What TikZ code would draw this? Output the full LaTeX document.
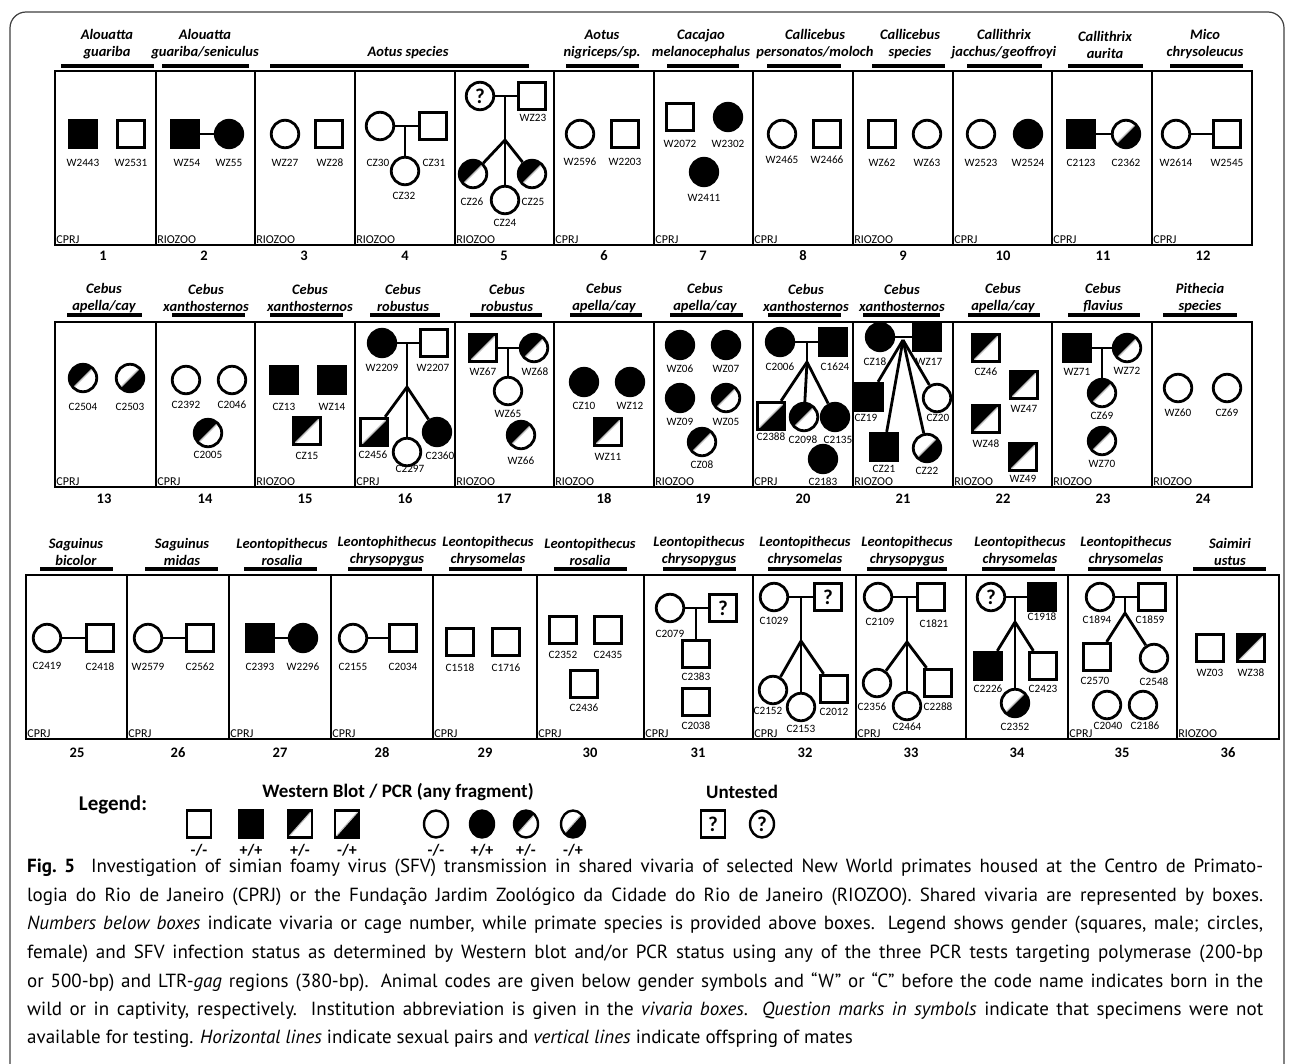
\documentclass[tikz,border=0pt]{standalone}
\usepackage{fontspec}
\setmainfont{Carlito}
\newfontfamily\capfont{PT Sans}
\usetikzlibrary{shapes.geometric}
\tikzset{
  ind/.style={draw, line width=2.8pt, minimum size=27.5pt, inner sep=0pt, fill=white},
  M/.style={ind, rectangle},
  F/.style={ind, circle},
  P/.style={fill=black},
  PN/.style={path picture={\fill[black] (path picture bounding box.south west) -- (path picture bounding box.north west) -- (path picture bounding box.north east) -- cycle; \draw[black!25, line width=1.1pt] (path picture bounding box.south west) -- (path picture bounding box.north east);}},
  NP/.style={path picture={\fill[black] (path picture bounding box.south west) -- (path picture bounding box.south east) -- (path picture bounding box.north east) -- cycle; \draw[black!25, line width=1.1pt] (path picture bounding box.south west) -- (path picture bounding box.north east);}},
  Q/.style={font=\bfseries\fontsize{21}{21}\selectfont},
  lab/.style={font=\fontsize{11.2}{11.2}\selectfont, inner sep=0pt},
  inst/.style={font=\fontsize{12}{12}\selectfont, anchor=south west, inner sep=1.2pt},
  num/.style={font=\bfseries\fontsize{14.5}{14.5}\selectfont, inner sep=0pt},
  spec/.style={font=\bfseries\itshape\fontsize{14.5}{17}\selectfont, align=center, inner sep=0pt},
  sbar/.style={line width=3.5pt},
  vbox/.style={line width=1.5pt},
  conn/.style={line width=2.8pt},
  legsym/.style={minimum width=24pt, minimum height=27pt, line width=2.4pt},
  leglab/.style={font=\bfseries\fontsize{16}{16}\selectfont, inner sep=0pt},
  legtitle/.style={font=\bfseries\fontsize{19}{19}\selectfont, inner sep=0pt},
  capline/.style={anchor=west, inner sep=0pt, font=\capfont\fontsize{19}{19}\selectfont},
}
\newcommand\ani[5]{\node[#1] (#2) at (#3) {}; \node[lab] (#2l) at (#4) {#5};}
\newcommand\instl[3]{\node[inst] (#1) at (#2) {#3};}
\newcommand\spc[7]{\node[spec] (#1) at (#2,#3) {#4}; \draw[sbar] (#5,#7) -- (#6,#7);}
\begin{document}
\begin{tikzpicture}[x=1pt,y=-1pt]
\useasboundingbox (0,0) rectangle (1292,1063);
\fill[white] (0,0) rectangle (1292,1063);
% outer frame
\draw[line width=1.2pt, black!75, rounded corners=16pt] (10,1100) -- (10,12) -- (1284,12) -- (1284,1100);

% ===================== ROW 1 =====================
\draw[vbox] (55,71) rectangle (1252,245);
\foreach \x in {156,255,355,455,554,654,753,853,953,1052,1152} \draw[vbox] (\x,71) -- (\x,245);
\spc{s1}{107}{44.5}{Alouatta\\guariba}{61}{154}{66}
\spc{s2}{205}{44.5}{Alouatta\\guariba/seniculus}{162}{249}{66}
\node[spec] (s3) at (408,53) {Aotus species}; \draw[sbar] (270,66) -- (529,66);
\spc{s6}{602}{44.5}{Aotus\\nigriceps/sp.}{566}{639}{66}
\spc{s7}{701}{44.5}{Cacajao\\melanocephalus}{667}{739}{66}
\spc{s8}{815}{44.5}{Callicebus\\personatos/moloch}{767}{841}{66}
\spc{s9}{910}{44.5}{Callicebus\\species}{872}{945}{66}
\spc{s10}{1004}{44.5}{Callithrix\\jacchus/geoffroyi}{967}{1042}{66}
\spc{s11}{1105}{44.5}{Callithrix\\aurita}{1068}{1143}{66}
\spc{s12}{1205}{44.5}{Mico\\chrysoleucus}{1170}{1243}{66}
\foreach \n/\x in {1/103,2/204,3/304,4/405,5/504,6/604,7/703,8/803,9/903,10/1003,11/1103,12/1203}
  \node[num] (k\n) at (\x,256) {\n};
\instl{i1}{55,245}{CPRJ} \instl{i2}{156,245}{RIOZOO} \instl{i3}{255,245}{RIOZOO}
\instl{i4}{355,245}{RIOZOO} \instl{i5}{455,245}{RIOZOO} \instl{i6}{554,245}{CPRJ}
\instl{i7}{654,245}{CPRJ} \instl{i8}{753,245}{CPRJ} \instl{i9}{853,245}{RIOZOO}
\instl{i10}{953,245}{CPRJ} \instl{i11}{1052,245}{CPRJ} \instl{i12}{1152,245}{CPRJ}
% box 1
\ani{M,P}{a1}{83,134}{83,163}{W2443}
\ani{M}{a2}{131,134}{131,163}{W2531}
% box 2
\ani{M,P}{a3}{185,134}{187,163}{WZ54}
\ani{F,P}{a4}{229,134}{229,163}{WZ55}
\draw[conn] (a3) -- (a4);
% box 3
\ani{F}{a5}{285,134}{285,163}{WZ27}
\ani{M}{a6}{329,134}{330,163}{WZ28}
% box 4
\ani{F}{a7}{380,126}{378,163}{CZ30}
\ani{M}{a8}{433,126}{434,163}{CZ31}
\draw[conn] (a7) -- (a8);
\coordinate (m4) at (405,126);
\ani{F}{a9}{405,171}{404,196}{CZ32}
\draw[conn] (m4) -- (a9);
% box 5
\node[F,Q] (q5) at (480,96) {?};
\ani{M}{a10}{532,96}{533,118}{WZ23}
\draw[conn] (q5) -- (a10);
\coordinate (m5) at (505,96); \coordinate (b5) at (505,140);
\ani{F,PN}{a11}{473,174}{472,202}{CZ26}
\ani{F}{a12}{505,200}{505,223}{CZ24}
\ani{F,PN}{a13}{532,174}{533,202}{CZ25}
\draw[conn] (m5) -- (b5); \draw[conn] (b5) -- (a11); \draw[conn] (b5) -- (a12); \draw[conn] (b5) -- (a13);
% box 6
\ani{F}{a14}{580,134}{580,162}{W2596}
\ani{M}{a15}{625,134}{625,162}{W2203}
% box 7
\ani{M}{a16}{680,117}{680,144}{W2072}
\ani{F,P}{a17}{728,117}{728,144}{W2302}
\ani{F,P}{a18}{704,172}{704,198}{W2411}
% box 8
\ani{F}{a19}{782,134}{782,160}{W2465}
\ani{M}{a20}{827,134}{827,160}{W2466}
% box 9
\ani{M}{a21}{882,134}{882,163}{WZ62}
\ani{F}{a22}{927,134}{927,163}{WZ63}
% box 10
\ani{F}{a23}{981,134}{981,163}{W2523}
\ani{F,P}{a24}{1028,134}{1028,163}{W2524}
% box 11
\ani{M,P}{a25}{1081,134}{1081,163}{C2123}
\ani{F,NP}{a26}{1126,134}{1126,163}{C2362}
\draw[conn] (a25) -- (a26);
% box 12
\ani{F}{a27}{1176,134}{1176,163}{W2614}
\ani{M}{a28}{1227,134}{1227,163}{W2545}
\draw[conn] (a27) -- (a28);

% ===================== ROW 2 =====================
\draw[vbox] (55,322) rectangle (1252,487);
\foreach \x in {156,255,355,455,554,654,753,853,953,1052,1152} \draw[vbox] (\x,322) -- (\x,487);
\spc{s13}{104}{298}{Cebus\\apella/cay}{67}{142}{315}
\spc{s14}{206}{298}{Cebus\\xanthosternos}{172}{245}{315}
\spc{s15}{310}{298}{Cebus\\xanthosternos}{270}{343}{315}
\spc{s16}{403}{298}{Cebus\\robustus}{370}{440}{315}
\spc{s17}{507}{298}{Cebus\\robustus}{470}{542}{315}
\spc{s18}{604}{298}{Cebus\\apella/cay}{570}{642}{315}
\spc{s19}{705}{298}{Cebus\\apella/cay}{670}{743}{315}
\spc{s20}{806}{298}{Cebus\\xanthosternos}{768}{841}{315}
\spc{s21}{902}{298}{Cebus\\xanthosternos}{863}{940}{315}
\spc{s22}{1003}{298}{Cebus\\apella/cay}{968}{1040}{315}
\spc{s23}{1103}{298}{Cebus\\flavius}{1068}{1140}{315}
\spc{s24}{1200}{298}{Pithecia\\species}{1163}{1237}{315}
\foreach \n/\x in {13/104,14/205,15/305,16/405,17/504,18/604,19/703,20/803,21/903,22/1003,23/1103,24/1203}
  \node[num] (k\n) at (\x,499) {\n};
\instl{i13}{55,487}{CPRJ} \instl{i14}{156,487}{CPRJ} \instl{i15}{255,487}{RIOZOO}
\instl{i16}{355,487}{CPRJ} \instl{i17}{455,487}{RIOZOO} \instl{i18}{554,487}{RIOZOO}
\instl{i19}{654,487}{RIOZOO} \instl{i20}{753,487}{CPRJ} \instl{i21}{853,487}{RIOZOO}
\instl{i22}{953,487}{RIOZOO} \instl{i23}{1052,487}{RIOZOO} \instl{i24}{1152,487}{RIOZOO}
% box 13
\ani{F,PN}{b1}{83,378}{83,407}{C2504}
\ani{F,NP}{b2}{130,378}{130,407}{C2503}
% box 14
\ani{F}{b3}{186,380}{186,405}{C2392}
\ani{F}{b4}{232,380}{232,405}{C2046}
\ani{F,PN}{b5}{208,433}{208,455}{C2005}
% box 15
\ani{M,P}{b6}{284,380}{284,407}{CZ13}
\ani{M,P}{b7}{332,380}{332,407}{WZ14}
\ani{M,PN}{b8}{307,431}{307,456}{CZ15}
% box 16
\ani{F,P}{b9}{382,343}{382,368}{W2209}
\ani{M}{b10}{434,343}{433,368}{W2207}
\draw[conn] (b9) -- (b10);
\coordinate (m16) at (407,343); \coordinate (br16) at (407,387);
\ani{M,NP}{b11}{374,432}{373,455}{C2456}
\ani{F}{b12}{407,452}{410,469}{C2297}
\ani{F,P}{b13}{437,432}{440,456}{C2360}
\draw[conn] (m16) -- (br16); \draw[conn] (br16) -- (b11); \draw[conn] (br16) -- (b12); \draw[conn] (br16) -- (b13);
% box 17
\ani{M,PN}{b14}{483,348}{483,372}{WZ67}
\ani{F,PN}{b15}{534,348}{535,372}{WZ68}
\draw[conn] (b14) -- (b15);
\coordinate (m17) at (508,348);
\ani{F}{b16}{508,391}{508,414}{WZ65}
\draw[conn] (m17) -- (b16);
\ani{F,PN}{b17}{521,435}{521,461}{WZ66}
% box 18
\ani{F,P}{b18}{584,382}{584,406}{CZ10}
\ani{F,P}{b19}{630,382}{630,406}{WZ12}
\ani{M,PN}{b20}{608,432}{608,457}{WZ11}
% box 19
\ani{F,P}{b21}{680,345}{680,369}{WZ06}
\ani{F,P}{b22}{726,345}{726,369}{WZ07}
\ani{F,P}{b23}{680,398}{680,422}{WZ09}
\ani{F,PN}{b24}{726,398}{726,422}{WZ05}
\ani{F,PN}{b25}{702,442}{702,465}{CZ08}
% box 20
\ani{F,P}{b26}{780,342}{780,367}{C2006}
\ani{M,P}{b27}{833,342}{835,367}{C1624}
\draw[conn] (b26) -- (b27);
\coordinate (m20) at (807,342); \coordinate (br20) at (807,362);
\ani{M,NP}{b28}{771,416}{771,437}{C2388}
\ani{F,PN}{b29}{804,417}{803,440}{C2098}
\ani{F,P}{b30}{835,417}{838,440}{C2135}
\ani{F,P}{b31}{823,459}{823,482}{C2183}
\draw[conn] (m20) -- (br20); \draw[conn] (br20) -- (b28); \draw[conn] (br20) -- (b29); \draw[conn] (br20) -- (b30);
% box 21
\ani{F,P}{b32}{880,337}{875,362}{CZ18}
\ani{M,P}{b33}{927,337}{929,362}{WZ17}
\draw[conn] (b32) -- (b33);
\coordinate (m21) at (903,340);
\ani{M,P}{b34}{869,397}{866,418}{CZ19}
\ani{F}{b35}{937,398}{938,418}{CZ20}
\ani{M,P}{b36}{884,447}{884,469}{CZ21}
\ani{F,NP}{b37}{927,448}{927,471}{CZ22}
\draw[conn] (m21) -- (b34); \draw[conn] (m21) -- (b35); \draw[conn] (m21) -- (b36); \draw[conn] (m21) -- (b37);
% box 22
\ani{M,PN}{b38}{986,348}{986,372}{CZ46}
\ani{M,PN}{b39}{1024,385}{1024,409}{WZ47}
\ani{M,PN}{b40}{986,419}{986,444}{WZ48}
\ani{M,PN}{b41}{1023,457}{1023,479}{WZ49}
% box 23
\ani{M,P}{b42}{1077,348}{1077,372}{WZ71}
\ani{F,PN}{b43}{1127,348}{1127,371}{WZ72}
\draw[conn] (b42) -- (b43);
\coordinate (m23) at (1102,348);
\ani{F,PN}{b44}{1102,393}{1102,416}{CZ69}
\ani{F,PN}{b45}{1102,441}{1102,464}{WZ70}
\draw[conn] (m23) -- (b44);
% box 24
\ani{F}{b46}{1178,388}{1178,413}{WZ60}
\ani{F}{b47}{1227,388}{1227,413}{CZ69}

% ===================== ROW 3 =====================
\draw[vbox] (26,575) rectangle (1279,739);
\foreach \x in {127,229,331,433,537,644,753,856,966,1068,1177} \draw[vbox] (\x,575) -- (\x,739);
\spc{s25}{76}{551.5}{Saguinus\\bicolor}{40}{113}{569}
\spc{s26}{182}{551.5}{Saguinus\\midas}{145}{218}{569}
\spc{s27}{282}{551.5}{Leontopithecus\\rosalia}{244}{317}{569}
\spc{s28}{387}{551.5}{Leontophithecus\\chrysopygus}{348}{422}{569}
\spc{s29}{488}{551.5}{Leontopithecus\\chrysomelas}{449}{522}{569}
\spc{s30}{590}{551.5}{Leontopithecus\\rosalia}{554}{627}{569}
\spc{s31}{699}{551.5}{Leontopithecus\\chrysopygus}{663}{736}{569}
\spc{s32}{805}{551.5}{Leontopithecus\\chrysomelas}{768}{841}{569}
\spc{s33}{907}{551.5}{Leontopithecus\\chrysopygus}{867}{947}{569}
\spc{s34}{1020}{551.5}{Leontopithecus\\chrysomelas}{982}{1055}{569}
\spc{s35}{1126}{551.5}{Leontopithecus\\chrysomelas}{1088}{1161}{569}
\spc{s36}{1230}{551.5}{Saimiri\\ustus}{1193}{1266}{569}
\foreach \n/\x in {25/77,26/178,27/280,28/382,29/485,30/590,31/698,32/805,33/911,34/1017,35/1122,36/1228}
  \node[num] (k\n) at (\x,753) {\n};
\foreach \n/\x in {25/26,26/127,27/229,28/331,29/433,30/537,31/644,32/753,33/856,35/1068}
  \node[inst] (i\n) at (\x,739) {CPRJ};
\node[inst] (i36) at (1177,739) {RIOZOO};
% box 25
\ani{F}{c1}{47,638}{47,666}{C2419}
\ani{M}{c2}{100,638}{100,667}{C2418}
\draw[conn] (c1) -- (c2);
% box 26
\ani{F}{c3}{148,638}{148,667}{W2579}
\ani{M}{c4}{200,638}{200,667}{C2562}
\draw[conn] (c3) -- (c4);
% box 27
\ani{M,P}{c5}{260,638}{260,667}{C2393}
\ani{F,P}{c6}{303,638}{303,667}{W2296}
\draw[conn] (c5) -- (c6);
% box 28
\ani{F}{c7}{353,638}{353,667}{C2155}
\ani{M}{c8}{403,638}{403,667}{C2034}
\draw[conn] (c7) -- (c8);
% box 29
\ani{M}{c9}{460,642}{460,668}{C1518}
\ani{M}{c10}{506,642}{506,668}{C1716}
% box 30
\ani{M}{c11}{563,630}{563,655}{C2352}
\ani{M}{c12}{608,630}{608,655}{C2435}
\ani{M}{c13}{584,684}{584,708}{C2436}
% box 31
\ani{F}{c14}{670,608}{670,634}{C2079}
\node[M,Q] (q31) at (723,608) {?};
\draw[conn] (c14) -- (q31);
\coordinate (m31) at (696,608);
\ani{M}{c15}{696,654}{696,677}{C2383}
\draw[conn] (m31) -- (c15);
\ani{M}{c16}{696,702}{696,726}{C2038}
% box 32
\ani{F}{c17}{774,597}{774,621}{C1029}
\node[M,Q] (q32) at (828,597) {?};
\draw[conn] (c17) -- (q32);
\coordinate (m32) at (801,597); \coordinate (br32) at (801,641);
\ani{F}{c18}{773,690}{768,711}{C2152}
\ani{F}{c19}{801,707}{801,729}{C2153}
\ani{M}{c20}{834,689}{834,712}{C2012}
\draw[conn] (m32) -- (br32); \draw[conn] (br32) -- (c18); \draw[conn] (br32) -- (c19); \draw[conn] (br32) -- (c20);
% box 33
\ani{F}{c21}{878,597}{880,622}{C2109}
\ani{M}{c22}{931,597}{934,624}{C1821}
\draw[conn] (c21) -- (c22);
\coordinate (m33) at (907,597); \coordinate (br33) at (907,642);
\ani{F}{c23}{877,683}{872,707}{C2356}
\ani{F}{c24}{907,706}{907,727}{C2464}
\ani{M}{c25}{938,683}{938,707}{C2288}
\draw[conn] (m33) -- (br33); \draw[conn] (br33) -- (c23); \draw[conn] (br33) -- (c24); \draw[conn] (br33) -- (c25);
% box 34
\node[F,Q] (q34) at (991,597) {?};
\ani{M,P}{c26}{1042,597}{1042,617}{C1918}
\draw[conn] (q34) -- (c26);
\coordinate (m34) at (1015,597); \coordinate (br34) at (1015,622);
\ani{M,P}{c27}{988,666}{988,689}{C2226}
\ani{M}{c28}{1043,666}{1043,689}{C2423}
\ani{F,NP}{c29}{1015,703}{1015,727}{C2352}
\draw[conn] (m34) -- (br34); \draw[conn] (br34) -- (c27); \draw[conn] (br34) -- (c28); \draw[conn] (br34) -- (c29);
% box 35
\ani{F}{c30}{1100,597}{1097,620}{C1894}
\ani{M}{c31}{1152,597}{1150,620}{C1859}
\draw[conn] (c30) -- (c31);
\coordinate (m35) at (1125,597); \coordinate (br35) at (1125,613);
\ani{M}{c32}{1097,657}{1095,681}{C2570}
\ani{F}{c33}{1154,658}{1154,682}{C2548}
\draw[conn] (m35) -- (br35); \draw[conn] (br35) -- (c32); \draw[conn] (br35) -- (c33);
\ani{F}{c34}{1107,705}{1108,726}{C2040}
\ani{F}{c35}{1143,705}{1145,726}{C2186}
% box 36
\ani{M}{c36}{1210,648}{1210,673}{WZ03}
\ani{M,PN}{c37}{1251,648}{1251,673}{WZ38}

% ===================== LEGEND =====================
\node[font=\bfseries\fontsize{21}{21}\selectfont, inner sep=0pt] (lg) at (113,805) {Legend:};
\node[legtitle] (lgt) at (398,792) {Western Blot / PCR (any fragment)};
\node[legtitle] (lgu) at (742,792) {Untested};
\node[M,legsym] (l1) at (199,824) {};
\node[M,legsym,P] (l2) at (251,824) {};
\node[M,legsym,PN] (l3) at (300,824) {};
\node[M,legsym,NP] (l4) at (347,824) {};
\node[ind,ellipse,legsym] (l5) at (436,824) {};
\node[ind,ellipse,legsym,P] (l6) at (482,824) {};
\node[ind,ellipse,legsym,PN] (l7) at (526,824) {};
\node[ind,ellipse,legsym,NP] (l8) at (573,824) {};
\node[M,legsym,Q,font=\bfseries\fontsize{21}{21}\selectfont] (l9) at (713,824) {?};
\node[ind,ellipse,legsym,font=\bfseries\fontsize{21}{21}\selectfont] (l10) at (762,824) {?};
\foreach \n/\x/\t in {1/199/-{/}-,2/251/+{/}+,3/300/+{/}-,4/347/-{/}+,5/436/-{/}-,6/482/+{/}+,7/526/+{/}-,8/573/-{/}+}
  \node[leglab] (ll\n) at (\x,850) {\t};

% ===================== CAPTION =====================
\node[capline] (c1l) at (27,868) {\makebox[1236pt][s]{\textbf{Fig.~5}~~Investigation of simian foamy virus (SFV) transmission in shared vivaria of selected New World primates housed at the Centro de Primato-}};
\node[capline] (c2l) at (27,896.5) {\makebox[1236pt][s]{logia do Rio de Janeiro (CPRJ) or the Fundação Jardim Zoológico da Cidade do Rio de Janeiro (RIOZOO). Shared vivaria are represented by boxes.}};
\node[capline] (c3l) at (27,925) {\makebox[1236pt][s]{\textit{Numbers below boxes} indicate vivaria or cage number, while primate species is provided above boxes. Legend shows gender (squares, male; circles,}};
\node[capline] (c4l) at (27,953.5) {\makebox[1236pt][s]{female) and SFV infection status as determined by Western blot and/or PCR status using any of the three PCR tests targeting polymerase (200-bp}};
\node[capline] (c5l) at (27,982) {\makebox[1236pt][s]{or 500-bp) and LTR-\textit{gag} regions (380-bp). Animal codes are given below gender symbols and “W” or “C” before the code name indicates born in the}};
\node[capline] (c6l) at (27,1010.5) {\makebox[1236pt][s]{wild or in captivity, respectively. Institution abbreviation is given in the \textit{vivaria boxes}. \textit{Question marks in symbols} indicate that specimens were not}};
\node[capline] (c7l) at (27,1039) {available for testing. \textit{Horizontal lines} indicate sexual pairs and \textit{vertical lines} indicate offspring of mates};
\end{tikzpicture}
\end{document}
